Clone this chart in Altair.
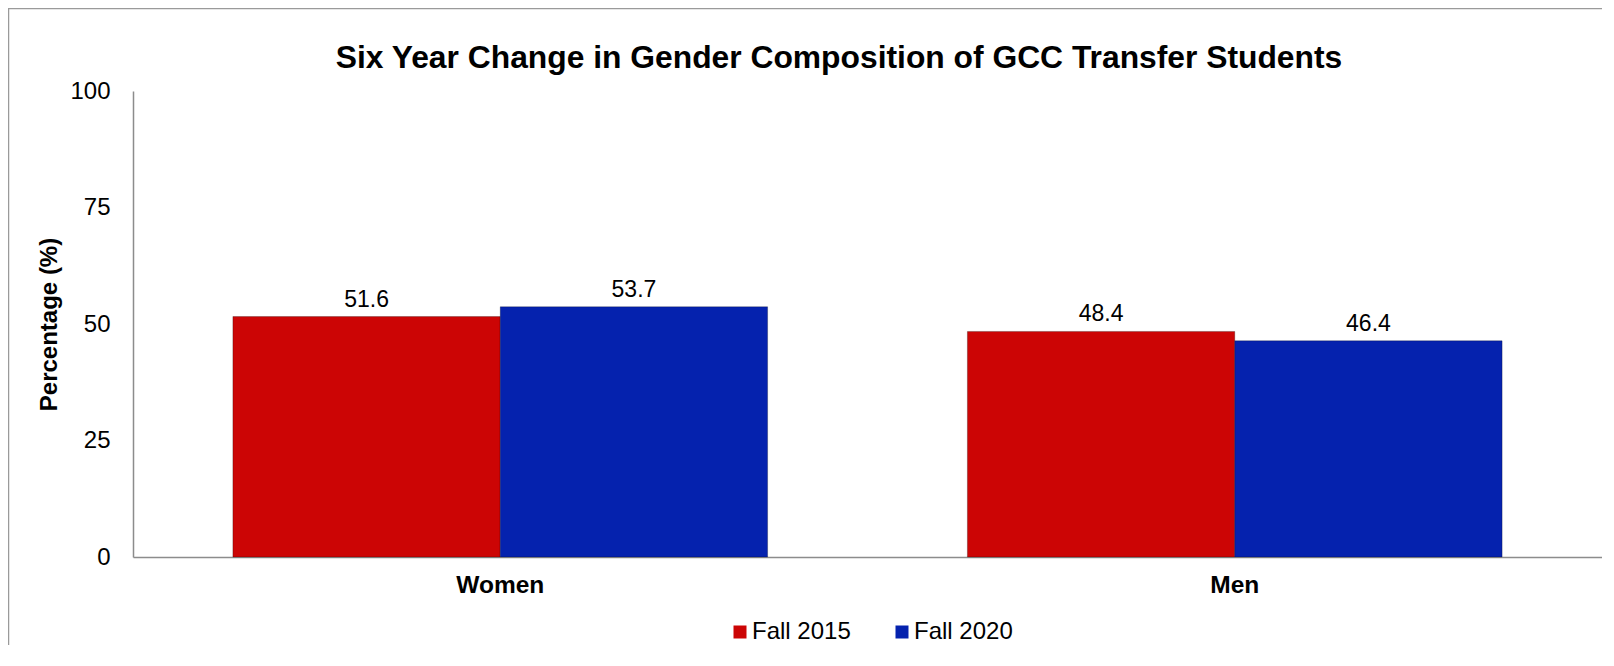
import altair as alt
import pandas as pd

# ---- data ----
groups = ["Women", "Men"]
series = ["Fall 2015", "Fall 2020"]
fall_2015 = [51.6, 48.4]
fall_2020 = [53.7, 46.4]
colors = ["#CC0505", "#0522AE"]
y_ticks = [0, 25, 50, 75, 100]
title_text = "Six Year Change in Gender Composition of GCC Transfer Students"
y_title = "Percentage (%)"

rows = []
for i, g in enumerate(groups):
    rows.append({"group": g, "series": series[0], "value": fall_2015[i]})
    rows.append({"group": g, "series": series[1], "value": fall_2020[i]})
df = pd.DataFrame(rows)

W, H = 1469, 466
FONT = "Liberation Sans"

x = alt.X(
    "group:N",
    sort=groups,
    scale=alt.Scale(paddingInner=0.272, paddingOuter=0.136),
    axis=alt.Axis(
        title=None, labelAngle=0, labelFontWeight="bold", labelFontSize=24.5,
        labelPadding=16, ticks=False, domainColor="#8c8c8c", domainWidth=1.5,
        labelColor="black", labelFont=FONT,
    ),
)
xo = alt.XOffset("series:N", sort=series, scale=alt.Scale(paddingInner=0, paddingOuter=0))
y = alt.Y(
    "value:Q",
    scale=alt.Scale(domain=[0, 100], nice=False),
    axis=alt.Axis(
        values=y_ticks, title=y_title, grid=False, ticks=False,
        labelFontSize=24, labelPadding=23, labelColor="black", labelFont=FONT,
        domainColor="#8c8c8c", domainWidth=1.5,
        titleFontSize=24, titleFontWeight="bold", titleColor="black", titleFont=FONT,
        titleAngle=270, titleAlign="center", titleBaseline="middle",
        titleX=-84, titleY=233,
    ),
)
color = alt.Color(
    "series:N",
    sort=series,
    scale=alt.Scale(domain=series, range=colors),
    legend=alt.Legend(
        title=None, orient="none", direction="horizontal",
        legendX=595, legendY=529, symbolType="square", symbolSize=169,
        labelFontSize=24, labelOffset=0, columnPadding=39,
        symbolStrokeWidth=0, labelColor="black", labelFont=FONT,
    ),
)

bars = alt.Chart(df).mark_bar(
    stroke="#000000", strokeOpacity=0.25, strokeWidth=1
).encode(x=x, xOffset=xo, y=y, color=color)

labels = alt.Chart(df).mark_text(
    dy=-10, baseline="alphabetic", fontSize=23, font=FONT, color="black"
).encode(x=x, xOffset=xo, y=y, text=alt.Text("value:Q", format=".1f"))

title = alt.Chart(pd.DataFrame({"t": [title_text]})).mark_text(
    fontSize=31.8, fontWeight="bold", font=FONT, color="black",
    baseline="alphabetic", align="center",
).encode(x=alt.value(706), y=alt.value(-23), text="t:N")

frame = pd.DataFrame({"b": [1]})
border_top = alt.Chart(frame).mark_rule(color="#9a9a9a", strokeWidth=1.5).encode(
    x=alt.value(-125), x2=alt.value(W + 200), y=alt.value(-82.5)
)
border_left = alt.Chart(frame).mark_rule(color="#9a9a9a", strokeWidth=1.5).encode(
    x=alt.value(-124.5), y=alt.value(-83), y2=alt.value(H + 200)
)

chart = alt.layer(border_top, border_left, bars, labels, title).properties(
    width=W, height=H,
    autosize=alt.AutoSizeParams(type="none"),
    padding={"left": 125, "top": 83, "right": 0, "bottom": 88},
).configure(font=FONT).configure_view(stroke=None)

chart.save("out.html", embed_options={"renderer": "svg", "actions": False})
